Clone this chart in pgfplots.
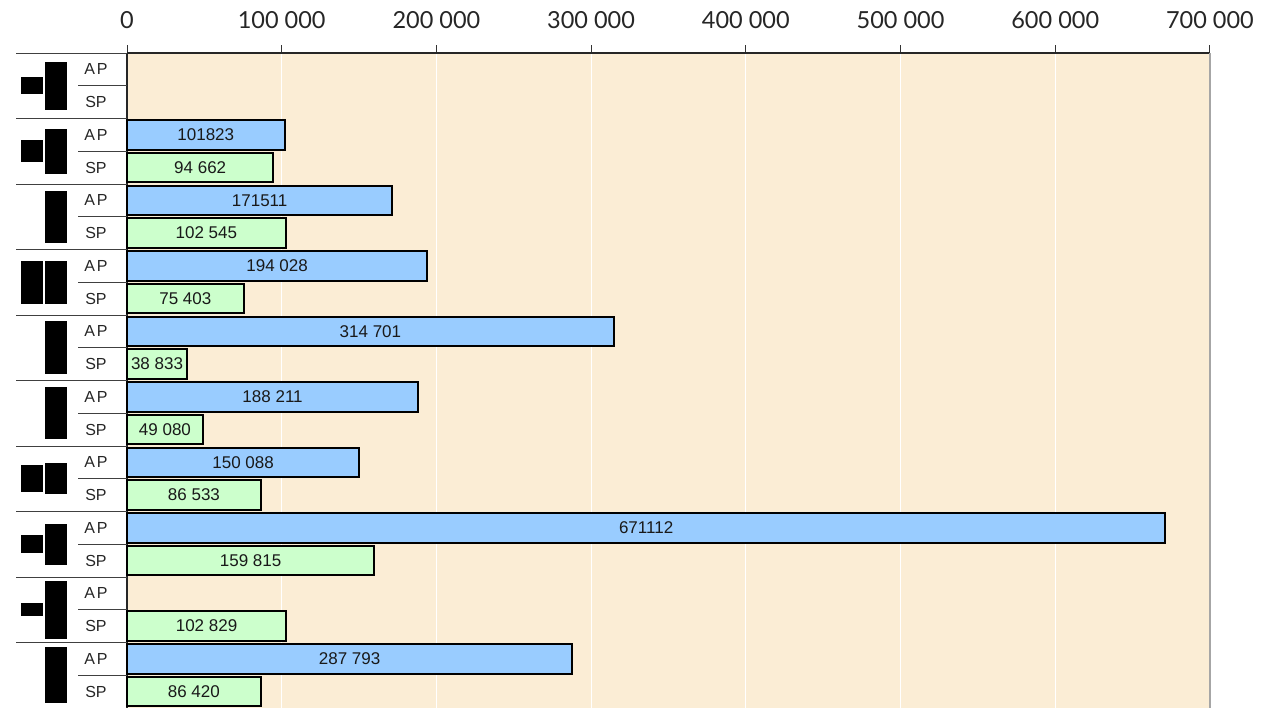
\documentclass[border=0pt]{standalone}
\usepackage{fontspec}
\setmainfont{Liberation Sans}
\newfontfamily\lato{Lato}
\usepackage{pgfplots}
\usepackage{pgfplotstable}
\pgfplotsset{compat=1.18}
\definecolor{apblue}{RGB}{153,204,255}
\definecolor{spgreen}{RGB}{204,255,204}
\definecolor{parch}{RGB}{251,237,213}
\newcommand{\blk}[1]{\raisebox{-0.5\height}{\rule{22pt}{#1pt}}}
\newcommand{\two}[2]{\blk{#1}\hspace{2pt}\blk{#2}}

\pgfplotstableread[col sep=comma]{
r,v,lab
2,101823,101823
4,171511,171511
6,194028,194 028
8,314701,314 701
10,188211,188 211
12,150088,150 088
14,671112,671112
18,287793,287 793
}\aptab

\pgfplotstableread[col sep=comma]{
r,v,lab
3,94662,94 662
5,102545,102 545
7,75403,75 403
9,38833,38 833
11,49080,49 080
13,86533,86 533
15,159815,159 815
17,102829,102 829
19,86420,86 420
}\sptab

\begin{document}
\begin{tikzpicture}[
  sep/.style={black!75, line width=0.9pt},
  rowlab/.style={font=\fontsize{16}{19}\selectfont, text=black!85},
]
\path[use as bounding box] (0,0) rectangle (1274pt,-707pt);
\begin{axis}[
  at={(127pt,-53pt)}, anchor=north west,
  scale only axis, width=1083pt, height=655pt,
  xmin=0, xmax=700000, ymin=-19.5, ymax=0.5,
  axis x line*=top, axis y line*=left,
  axis line style={black!85, line width=1.6pt},
  xtick={0,100000,200000,300000,400000,500000,600000,700000},
  ytick=\empty,
  tick align=outside, major tick length=8pt,
  xtick style={black!80, line width=1pt},
  xmajorgrids, grid style={white, line width=0.8pt},
  axis background/.style={fill=parch},
  scaled x ticks=false,
  /pgf/number format/fixed,
  /pgf/number format/precision=0,
  /pgf/number format/assume math mode=true,
  /pgf/number format/1000 sep={\ },
  xticklabel style={font=\lato\fontsize{23.5}{28}\selectfont, text=black!85, anchor=base, yshift=17pt},
  clip=false,
]
\addplot[xbar, bar width=0.9, bar shift=0pt, fill=apblue, draw=black, line width=2pt]
  table[x=v, y expr=-\thisrow{r}]{\aptab};
\addplot[xbar, bar width=0.9, bar shift=0pt, fill=spgreen, draw=black, line width=2pt]
  table[x=v, y expr=-\thisrow{r}]{\sptab};

\addplot[draw=none, mark=none, nodes near coords, point meta=explicit symbolic,
  nodes near coords align=center,
  every node near coord/.style={font=\fontsize{17}{20}\selectfont, text=black!90, anchor=center, inner sep=0pt}]
  table[x expr=\thisrow{v}/2, y expr=-\thisrow{r}, meta=lab]{\aptab};
\addplot[draw=none, mark=none, nodes near coords, point meta=explicit symbolic,
  nodes near coords align=center,
  every node near coord/.style={font=\fontsize{17}{20}\selectfont, text=black!90, anchor=center, inner sep=0pt}]
  table[x expr=\thisrow{v}/2, y expr=-\thisrow{r}, meta=lab]{\sptab};

\draw[gray!70, line width=1.2pt] (rel axis cs:1,0) -- (rel axis cs:1,1);

\pgfplotsinvokeforeach{0.5,-1.5,-3.5,-5.5,-7.5,-9.5,-11.5,-13.5,-15.5,-17.5,-19.5}{
  \draw[sep] (axis cs:0,#1) -- ([xshift=-111pt]axis cs:0,#1);
}
\pgfplotsinvokeforeach{-0.5,-2.5,-4.5,-6.5,-8.5,-10.5,-12.5,-14.5,-16.5,-18.5}{
  \draw[sep] (axis cs:0,#1) -- ([xshift=-49pt]axis cs:0,#1);
}
\pgfplotsinvokeforeach{0,-2,-4,-6,-8,-10,-12,-14,-16,-18}{
  \node[rowlab] at ([xshift=-31pt]axis cs:0,#1) {A\kern2pt P};
}
\pgfplotsinvokeforeach{-1,-3,-5,-7,-9,-11,-13,-15,-17,-19}{
  \node[rowlab] at ([xshift=-31pt]axis cs:0,#1) {SP};
}

\node[anchor=east, inner sep=0pt] at ([xshift=-60pt]axis cs:0,-0.5) {\two{17}{48}};
\node[anchor=east, inner sep=0pt] at ([xshift=-60pt]axis cs:0,-2.5) {\two{22}{45}};
\node[anchor=east, inner sep=0pt] at ([xshift=-60pt]axis cs:0,-4.5) {\blk{52}};
\node[anchor=east, inner sep=0pt] at ([xshift=-60pt]axis cs:0,-6.5) {\two{43}{43}};
\node[anchor=east, inner sep=0pt] at ([xshift=-60pt]axis cs:0,-8.5) {\blk{53}};
\node[anchor=east, inner sep=0pt] at ([xshift=-60pt]axis cs:0,-10.5) {\blk{52}};
\node[anchor=east, inner sep=0pt] at ([xshift=-60pt]axis cs:0,-12.5) {\two{27}{31}};
\node[anchor=east, inner sep=0pt] at ([xshift=-60pt]axis cs:0,-14.5) {\two{18}{41}};
\node[anchor=east, inner sep=0pt] at ([xshift=-60pt]axis cs:0,-16.5) {\two{13}{58}};
\node[anchor=east, inner sep=0pt] at ([xshift=-60pt]axis cs:0,-18.5) {\blk{56}};
\end{axis}
\end{tikzpicture}
\end{document}
